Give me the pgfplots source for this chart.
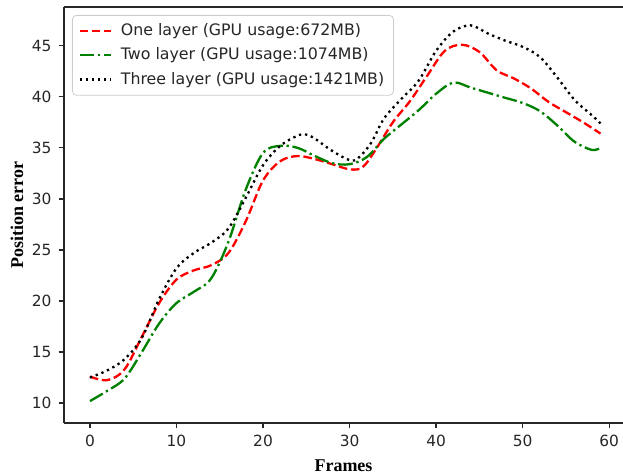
\documentclass[border=0pt]{standalone}
\usepackage{pgfplots}
\pgfplotsset{compat=1.18}
\usepackage{fontspec}
\setmainfont{DejaVu Sans}
\newfontfamily\timesfont{Liberation Serif}
\definecolor{mplgreen}{RGB}{0,128,0}
\begin{document}
\begin{tikzpicture}
\begin{axis}[
  name=ax,
  scale only axis,
  width=279.5pt, height=208pt,
  xmin=-3, xmax=61.6, ymin=8.05, ymax=48.8,
  xtick={0,10,...,60}, ytick={10,15,...,45},
  axis x line*=box, axis y line*=left,
  x axis line style={-}, y axis line style={-},
  axis line style={black!85, line width=0.62pt},
  xtick pos=bottom, ytick pos=left,
  tick align=outside, major tick length=2.7pt,
  tick style={black!85, line width=0.62pt},
  /pgf/number format/assume math mode=true,
  ticklabel style={font=\fontsize{7.7}{9}\selectfont, text=black!85},
  xlabel={\timesfont\bfseries Frames},
  ylabel={\timesfont\bfseries Position error},
  label style={font=\fontsize{9}{10}\selectfont},
  xlabel style={at={(axis description cs:0.5,0)}, anchor=center, yshift=-21.5pt},
  ylabel style={at={(axis description cs:0,0.5)}, anchor=center, yshift=23.5pt},
  legend cell align=left,
  legend image code/.code={\draw[#1] (0pt,0pt) -- (15.5pt,0pt);},
  legend style={at={(axis description cs:0,1)}, anchor=north west,
    xshift=4pt, yshift=-4pt, draw=black!20, rounded corners=2pt,
    font=\fontsize{7.9}{9}\selectfont, row sep=1.4pt,
    inner xsep=3pt, inner ysep=2.5pt,
    /tikz/every odd column/.append style={column sep=3pt},
    nodes={inner sep=1.6pt, text=black!85}},
]
\addplot[red, line width=1.16pt, dash pattern=on 4.3pt off 1.86pt, smooth, tension=0.55] coordinates {
(0,12.6) (2,12.25) (4,13.3) (6,16.5) (8,19.8) (10,22.1) (12,23.0) (14,23.5)
(16,24.7) (18,27.8) (20,31.8) (22,33.7) (24,34.2) (26,33.9) (28,33.4) (30,32.9)
(31.5,33.1) (33,34.8) (35,37.5) (37,39.6) (39,42.1) (41,44.5) (43,45.1) (45,44.4)
(47,42.6) (49,41.8) (51,40.8) (53,39.5) (55,38.5) (57,37.5) (59,36.4)};
\addlegendentry{One layer (GPU usage:672MB)}
\addplot[mplgreen, line width=1.16pt, dash pattern=on 7.4pt off 1.86pt on 1.16pt off 1.86pt, smooth, tension=0.55] coordinates {
(0,10.2) (2,11.2) (4,12.4) (6,15.0) (8,17.8) (10,19.8) (12,20.9) (14,22.2)
(16,25.8) (18,30.9) (20,34.5) (22,35.2) (24,35.0) (26,34.2) (28,33.5) (30,33.4)
(32,34.1) (34,35.9) (36,37.3) (38,38.7) (40,40.3) (42,41.4) (44,40.9) (46,40.4)
(48,39.9) (50,39.4) (52,38.6) (54,37.2) (56,35.6) (58,34.8) (59,35.0)};
\addlegendentry{Two layer (GPU usage:1074MB)}
\addplot[black, line width=1.16pt, dash pattern=on 1.16pt off 1.9pt, smooth, tension=0.55] coordinates {
(0,12.5) (2,13.2) (4,14.3) (6,16.4) (8,20.2) (10,23.2) (12,24.7) (14,25.7)
(16,27.1) (18,30.1) (20,33.3) (22,35.2) (24,36.2) (25,36.3) (26,35.9) (28,34.7)
(30,33.8) (31,34.0) (32.5,35.5) (34,37.9) (36,39.8) (38,41.6) (40,44.5) (42,46.4)
(44,47.0) (46,46.2) (48,45.5) (50,44.9) (52,43.9) (54,41.9) (56,39.7) (58,38.2) (59,37.4)};
\addlegendentry{Three layer (GPU usage:1421MB)}
\end{axis}
\pgfresetboundingbox
\path[use as bounding box] ([shift={(-32pt,-26pt)}]ax.south west) rectangle ([shift={(0pt,3.5pt)}]ax.north east);
\end{tikzpicture}
\end{document}
